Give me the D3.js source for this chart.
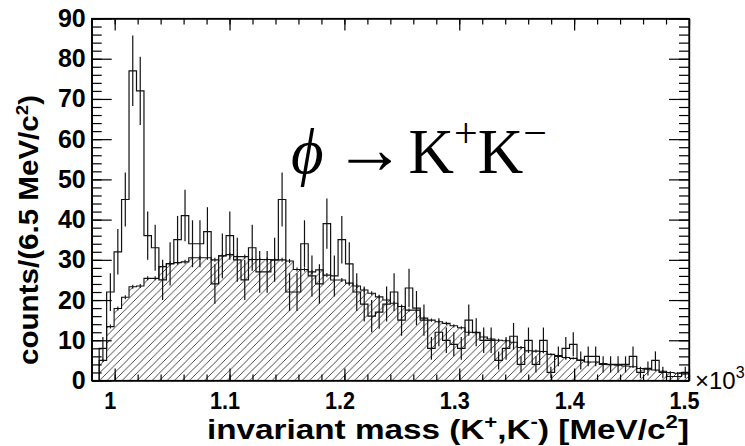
<!DOCTYPE html>
<html>
<head>
<meta charset="utf-8">
<script src="https://cdn.jsdelivr.net/npm/d3@7"></script>
<style>
  html, body { margin: 0; padding: 0; background: #fff; }
  svg { display: block; }
</style>
</head>
<body>
<svg id="chart" width="745" height="446"></svg>
<script>
// ---- data ----
const binStart = 0.9865;   // x10^3 MeV/c^2
const binWidth = 0.0065;
// measured spectrum (counts per bin)
const dataCounts = [8,22,32,45,77,72,36,33,25,29,35,41,34,34,37,24,31,36,30,25,
  33,27,27,30,45,22,22,34,26,24,39,26,35,29,22,19,16,17,19,22,
  15,23,18,15,8,12,10,9,8,15,12,10,10,5,8,11,4,10,4,10,
  2,6,8,9,5,6,6,4,4,4,4,6,2,3,5,2,1,1,2];
// simulated / background (hatched)
const bgCounts = [5,13.4,17.9,20.7,23.3,23.5,25.4,25.4,28.3,29.1,29.3,29.5,30.5,30.5,30.5,30,31,31.3,30.8,30.8,
  30.1,30.1,30.1,30,30,29.7,27.6,27.6,27,27.5,26.2,25,25,24.2,23.5,22.5,21.7,20.8,20,19.2,
  18.4,17.5,17.5,15.5,15,14.6,14.2,13.6,13.1,12,11.9,10.8,10.3,10,9.9,9.5,8.2,7.4,7.3,7.2,
  6.5,6.2,5.7,5.5,5.1,4.6,4.6,4.2,3.9,3.8,3.6,3.4,3,2.8,2.6,2.3,2,1.8,1.6];
const bgErrors = [0.4,0.5,0.5,0.5,0.5,0.5,0.5,0.5,0.5,0.5,0.5,0.5,0.5,0.5,0.5,0.5,0.5,0.5,0.5,0.5,
  0.5,0.5,0.5,0.5,0.5,0.5,0.5,0.5,0.5,0.5,0.5,0.5,0.5,0.5,0.5,0.5,0.5,0.5,0.5,0.5,
  0.4,0.4,0.4,0.4,0.4,0.4,0.4,0.4,0.4,0.4,0.4,0.4,0.4,0.4,0.4,0.4,0.4,0.4,0.4,0.4,
  0.3,0.3,0.3,0.3,0.3,0.3,0.3,0.3,0.3,0.3,0.3,0.3,0.3,0.3,0.3,0.3,0.3,0.3,0.3];
const xTickValues = [1.0, 1.1, 1.2, 1.3, 1.4, 1.5];
const xTickLabels = ["1", "1.1", "1.2", "1.3", "1.4", "1.5"];
const yTickValues = [0,10,20,30,40,50,60,70,80,90];
const yTickLabels = ["0","10","20","30","40","50","60","70","80","90"];
const xDomain = [0.98, 1.5];
const yDomain = [0, 90];

// ---- layout ----
const L = 91.7, R = 689, T = 18.5, B = 380.5;
const svg = d3.select("#chart");
const x = d3.scaleLinear().domain(xDomain).range([L, R]);
const y = d3.scaleLinear().domain(yDomain).range([B, T]);

// hatch pattern
const defs = svg.append("defs");
const hs = 7.5;
const pat = defs.append("pattern").attr("id", "hatch")
  .attr("patternUnits", "userSpaceOnUse").attr("width", hs).attr("height", hs);
pat.append("path").attr("d", `M0,${hs} L${hs},0 M${-hs/2},${hs/2} L${hs/2},${-hs/2} M${hs/2},${hs*1.5} L${hs*1.5},${hs/2}`)
  .attr("stroke", "#333").attr("stroke-width", 0.9).attr("fill", "none");

function stepPath(vals) {
  let d = `M${x(binStart)},${y(0)}`;
  vals.forEach((v, i) => {
    const x0 = x(binStart + i * binWidth), x1 = x(binStart + (i + 1) * binWidth);
    d += ` L${x0},${y(v)} L${x1},${y(v)}`;
  });
  d += ` L${x(binStart + vals.length * binWidth)},${y(0)}`;
  return d;
}

const plot = svg.append("g");
plot.append("path").attr("d", stepPath(bgCounts) + " Z")
  .attr("fill", "url(#hatch)").attr("stroke", "none");
plot.append("path").attr("d", stepPath(bgCounts))
  .attr("fill", "none").attr("stroke", "#111").attr("stroke-width", 1.1);
plot.selectAll("line.bgerr").data(bgCounts).enter().append("line")
  .attr("x1", (d, i) => x(binStart + (i + 0.5) * binWidth))
  .attr("x2", (d, i) => x(binStart + (i + 0.5) * binWidth))
  .attr("y1", (d, i) => y(d - bgErrors[i])).attr("y2", (d, i) => y(d + bgErrors[i]))
  .attr("stroke", "#111").attr("stroke-width", 1.1);

plot.append("path").attr("d", stepPath(dataCounts))
  .attr("fill", "none").attr("stroke", "#111").attr("stroke-width", 1.2);
plot.selectAll("line.err").data(dataCounts).enter().append("line")
  .attr("x1", (d, i) => x(binStart + (i + 0.5) * binWidth))
  .attr("x2", (d, i) => x(binStart + (i + 0.5) * binWidth))
  .attr("y1", d => y(d - Math.sqrt(d))).attr("y2", d => y(d + Math.sqrt(d)))
  .attr("stroke", "#111").attr("stroke-width", 1.2);

// ---- axes ----
const xMinor = d3.range(0, 27).map(i => xDomain[0] + i * 0.02);
const yMinor = d3.range(0, 46).map(i => i * 2);
const sans = "'Liberation Sans', Arial, sans-serif";

function styleAxis(g) {
  g.select(".domain").attr("stroke", "#000").attr("stroke-width", 1.2);
  g.selectAll(".tick line").attr("stroke", "#000").attr("stroke-width", 1.2);
}
svg.append("g").attr("transform", `translate(0,${B})`)
  .call(d3.axisBottom(x).tickValues(xMinor).tickSize(-6).tickSizeOuter(0).tickFormat(""))
  .call(styleAxis);
const xb = svg.append("g").attr("transform", `translate(0,${B})`)
  .call(d3.axisBottom(x).tickValues(xTickValues).tickSize(-12).tickSizeOuter(0)
    .tickPadding(11).tickFormat((d, i) => xTickLabels[i]))
  .call(styleAxis);
xb.selectAll("text").attr("font-family", sans)
  .attr("font-weight", "bold").attr("font-size", 24).attr("fill", "#000")
  .attr("transform", "translate(-5,0) scale(0.9,1)");
svg.append("g").attr("transform", `translate(0,${T})`)
  .call(d3.axisTop(x).tickValues(xMinor).tickSize(-6).tickSizeOuter(0).tickFormat(""))
  .call(styleAxis);
svg.append("g").attr("transform", `translate(0,${T})`)
  .call(d3.axisTop(x).tickValues(xTickValues).tickSize(-12).tickSizeOuter(0).tickFormat(""))
  .call(styleAxis);
svg.append("g").attr("transform", `translate(${L},0)`)
  .call(d3.axisLeft(y).tickValues(yMinor).tickSize(-10).tickSizeOuter(0).tickFormat(""))
  .call(styleAxis);
const yl = svg.append("g").attr("transform", `translate(${L},0)`)
  .call(d3.axisLeft(y).tickValues(yTickValues).tickSize(-20).tickSizeOuter(0)
    .tickPadding(6).tickFormat((d, i) => yTickLabels[i]))
  .call(styleAxis);
yl.selectAll("text").attr("font-family", sans)
  .attr("font-weight", "bold").attr("font-size", 25).attr("fill", "#000");
svg.append("g").attr("transform", `translate(${R},0)`)
  .call(d3.axisRight(y).tickValues(yMinor).tickSize(-10).tickSizeOuter(0).tickFormat(""))
  .call(styleAxis);
svg.append("g").attr("transform", `translate(${R},0)`)
  .call(d3.axisRight(y).tickValues(yTickValues).tickSize(-20).tickSizeOuter(0).tickFormat(""))
  .call(styleAxis);

svg.append("rect").attr("x", L).attr("y", T).attr("width", R - L).attr("height", B - T)
  .attr("fill", "none").attr("stroke", "#000").attr("stroke-width", 1.2);

// ---- titles ----
const xt = svg.append("text").attr("x", 207).attr("y", 439)
  .attr("textLength", 482).attr("lengthAdjust", "spacingAndGlyphs")
  .attr("font-family", sans).attr("font-weight", "bold").attr("font-size", 27).attr("fill", "#000");
xt.append("tspan").text("invariant mass (K");
xt.append("tspan").attr("dy", -11).attr("font-size", 18).text("+");
xt.append("tspan").attr("dy", 11).text(",K");
xt.append("tspan").attr("dy", -11).attr("font-size", 18).text("-");
xt.append("tspan").attr("dy", 11).text(") [MeV/c");
xt.append("tspan").attr("dy", -11).attr("font-size", 18).text("2");
xt.append("tspan").attr("dy", 11).text("]");

const yt = svg.append("text").attr("transform", "translate(38,365) rotate(-90)")
  .attr("textLength", 270).attr("lengthAdjust", "spacingAndGlyphs")
  .attr("font-family", sans).attr("font-weight", "bold").attr("font-size", 27).attr("fill", "#000");
yt.append("tspan").text("counts/(6.5 MeV/c");
yt.append("tspan").attr("dy", -10).attr("font-size", 17).text("2");
yt.append("tspan").attr("dy", 10).text(")");

const mult = svg.append("text").attr("x", 695).attr("y", 389)
  .attr("font-family", sans).attr("font-size", 24).attr("fill", "#000");
mult.append("tspan").text("\u00d710");
mult.append("tspan").attr("dy", -11).attr("font-size", 16).text("3");

// phi -> K+K-
const serif = "'Liberation Serif', 'Times New Roman', serif";
const lab = svg.append("text").attr("x", 291).attr("y", 173)
  .attr("font-family", serif).attr("font-size", 63).attr("fill", "#000");
lab.append("tspan").attr("font-style", "italic").text("\u03d5");
lab.append("tspan").attr("dx", 10).attr("font-size", 72).text("\u2192");
lab.append("tspan").attr("dx", 3).text("K");
lab.append("tspan").attr("dy", -26).attr("font-size", 42).text("+");
lab.append("tspan").attr("dy", 26).text("K");
lab.append("tspan").attr("dy", -26).attr("font-size", 42).text("\u2212");
</script>
</body>
</html>
